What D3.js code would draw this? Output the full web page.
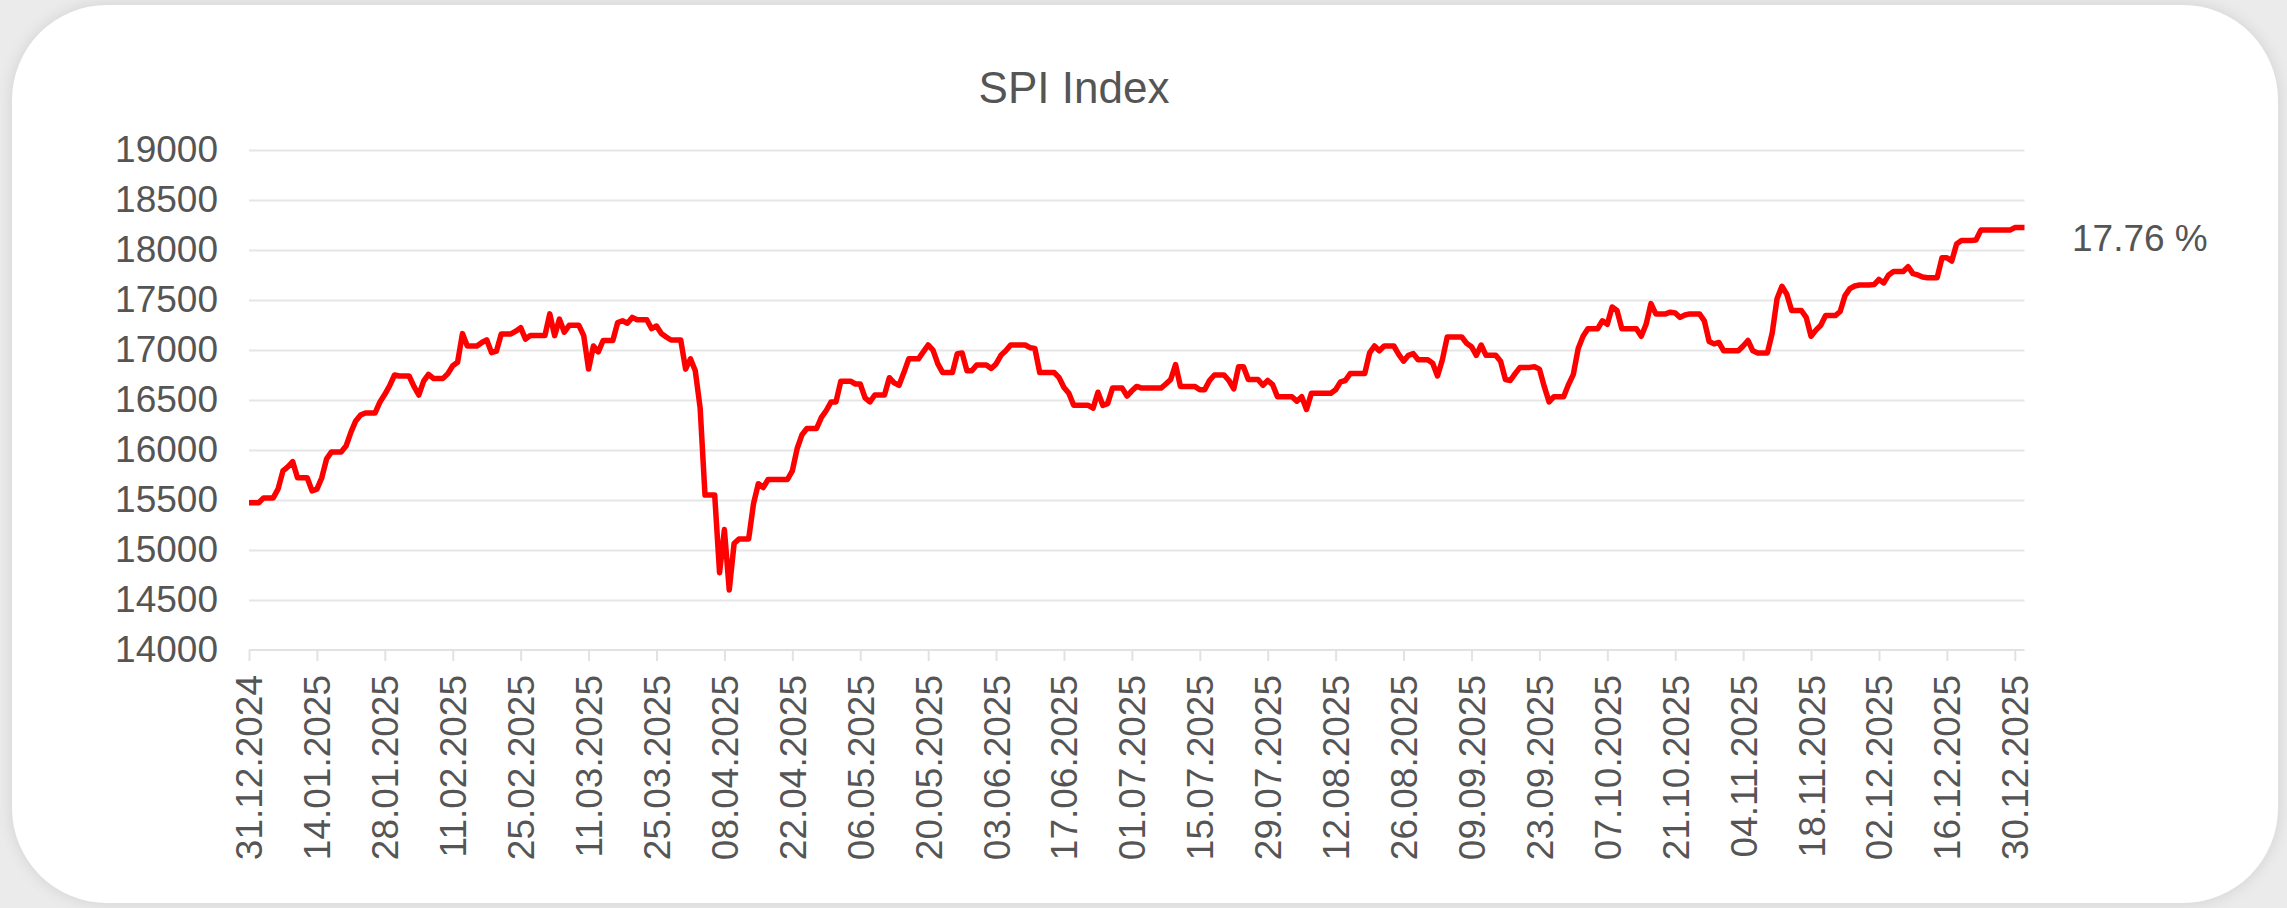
<!DOCTYPE html>
<html><head><meta charset="utf-8">
<script src="https://cdn.jsdelivr.net/npm/d3@7"></script>
<style>
html,body{margin:0;padding:0;background:#ebebeb;width:2287px;height:908px;overflow:hidden;}
#card{position:absolute;left:12px;top:5px;width:2266px;height:898px;background:#fff;border-radius:95px;box-shadow:0 0 16px rgba(0,0,0,0.11);}
svg{position:absolute;left:0;top:0;}
text{font-family:"Liberation Sans",Arial,sans-serif;fill:#555;}
</style></head><body><div id="card"></div><svg id="chart" width="2287" height="908"></svg>
<script>
const title = "SPI Index";
const changeLabel = "17.76 %";
const startDate = "2024-12-31"; // first daily value, one value per calendar day
const spiValues = [
15473,15473,15473,15521,15521,15521,15611,15791,15832,15884,
15722,15722,15722,15591,15608,15722,15912,15981,15981,15981,
16039,16177,16291,16350,16371,16371,16371,16481,16557,16643,
16750,16740,16740,16740,16636,16550,16688,16757,16716,16716,
16716,16764,16843,16878,17164,17040,17040,17040,17075,17102,
16974,16988,17161,17161,17161,17188,17223,17109,17144,17144,
17144,17144,17361,17144,17309,17178,17247,17247,17247,17144,
16809,17040,16981,17095,17095,17095,17275,17292,17268,17326,
17302,17302,17302,17213,17240,17164,17130,17100,17100,17100,
16809,16912,16792,16420,15549,15549,15549,14773,15204,14600,
15066,15111,15111,15111,15463,15663,15625,15705,15705,15705,
15705,15705,15791,16015,16153,16215,16215,16215,16326,16395,
16481,16481,16688,16688,16688,16660,16660,16522,16481,16550,
16550,16550,16723,16671,16647,16774,16912,16912,16912,16981,
17050,16999,16861,16774,16774,16774,16964,16971,16792,16792,
16850,16850,16850,16816,16861,16947,16992,17050,17050,17050,
17050,17023,17016,16774,16774,16774,16774,16723,16626,16567,
16447,16447,16447,16447,16419,16578,16447,16464,16619,16619,
16619,16540,16592,16636,16619,16619,16619,16619,16619,16660,
16705,16854,16636,16636,16636,16636,16602,16602,16695,16750,
16750,16750,16695,16612,16833,16833,16705,16705,16705,16647,
16695,16654,16533,16533,16533,16533,16488,16533,16405,16567,
16567,16567,16567,16567,16602,16681,16695,16764,16764,16764,
16764,16971,17040,16992,17040,17040,17040,16957,16888,16947,
16964,16902,16902,16902,16867,16740,16902,17130,17130,17130,
17130,17068,17033,16947,17050,16947,16947,16947,16888,16705,
16695,16764,16826,16826,16826,16833,16809,16636,16481,16533,
16533,16533,16654,16757,17016,17137,17213,17213,17213,17292,
17257,17430,17395,17213,17213,17213,17213,17137,17257,17464,
17361,17361,17361,17378,17371,17326,17350,17361,17361,17361,
17292,17085,17061,17075,16992,16992,16992,16992,17040,17095,
16992,16971,16971,16971,17171,17516,17637,17558,17395,17395,
17395,17326,17137,17199,17247,17344,17344,17344,17385,17544,
17613,17640,17650,17650,17650,17654,17706,17671,17751,17785,
17785,17785,17833,17764,17751,17730,17723,17723,17723,17923,
17923,17889,18061,18096,18096,18096,18100,18199,18199,18199,
18199,18199,18199,18199,18224,18224,18224
];
const tickLabels = ["31.12.2024","14.01.2025","28.01.2025","11.02.2025","25.02.2025","11.03.2025","25.03.2025",
"08.04.2025","22.04.2025","06.05.2025","20.05.2025","03.06.2025","17.06.2025","01.07.2025","15.07.2025",
"29.07.2025","12.08.2025","26.08.2025","09.09.2025","23.09.2025","07.10.2025","21.10.2025","04.11.2025",
"18.11.2025","02.12.2025","16.12.2025","30.12.2025"];
const yTicks = [14000,14500,15000,15500,16000,16500,17000,17500,18000,18500,19000];

(function(){
const parseTick = d3.utcParse("%d.%m.%Y");
const fmtTick = d3.utcFormat("%d.%m.%Y");
const start = d3.utcParse("%Y-%m-%d")(startDate);
const dates = spiValues.map((v,i)=>d3.utcDay.offset(start,i));

const mLeft = 249, mRight = 2024.5, mTop = 150, mBottom = 650;
const x = d3.scaleUtc().domain([start, dates[dates.length-1]]).range([mLeft,mRight]);
const y = d3.scaleLinear().domain([14000,19000]).range([mBottom,mTop]);

const svg = d3.select("#chart");
const FONT = '"Liberation Sans",Arial,sans-serif';

// gridlines
svg.append("g")
  .attr("transform",`translate(${mLeft},0)`)
  .call(d3.axisLeft(y).tickValues(yTicks.slice(1)).tickSize(-(mRight-mLeft)).tickFormat(""))
  .call(g=>g.select(".domain").remove())
  .call(g=>g.selectAll("line").attr("stroke","#e6e6e6").attr("stroke-width",2));

// y axis labels
svg.append("g")
  .attr("transform",`translate(${mLeft},0)`)
  .call(d3.axisLeft(y).tickValues(yTicks).tickSize(0).tickPadding(31).tickFormat(d3.format("d")))
  .call(g=>g.select(".domain").remove())
  .call(g=>g.selectAll("text").attr("font-size",37).attr("fill","#555").attr("font-family",FONT));

// x axis
svg.append("g")
  .attr("transform",`translate(0,${mBottom})`)
  .call(d3.axisBottom(x).tickValues(tickLabels.map(parseTick)).tickSize(11).tickFormat(fmtTick))
  .call(g=>g.select(".domain").attr("stroke","#e2e2e2").attr("stroke-width",2).attr("d",`M${mLeft},0H${mRight}`))
  .call(g=>g.selectAll(".tick line").attr("stroke","#e2e2e2").attr("stroke-width",2))
  .call(g=>g.selectAll("text").attr("font-size",37).attr("fill","#555").attr("font-family",FONT)
      .attr("transform","rotate(-90)").attr("x",-25).attr("y",0).attr("dy","0.35em")
      .style("text-anchor","end"));

// line
const line = d3.line().x((d,i)=>x(dates[i])).y(d=>y(d));
svg.append("path").datum(spiValues)
  .attr("d",line).attr("fill","none").attr("stroke","#ff0000")
  .attr("stroke-width",5.5).attr("stroke-linejoin","round");

// title
svg.append("text").attr("x",1074).attr("y",103).attr("text-anchor","middle")
  .attr("font-size",44).attr("font-family",FONT).text(title);

// change label
svg.append("text").attr("x",2072).attr("y",251).attr("font-size",37).attr("font-family",FONT).text(changeLabel);
})();
</script></body></html>
